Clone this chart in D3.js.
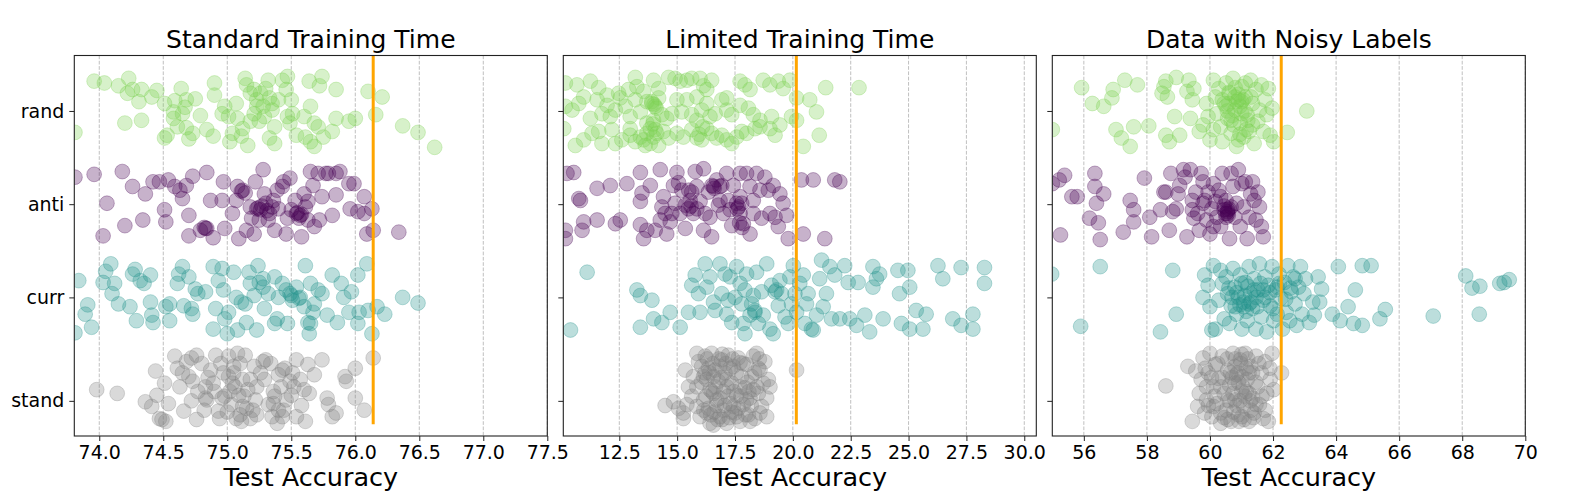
<!DOCTYPE html>
<html>
<head>
<meta charset="utf-8">
<script src="https://cdn.jsdelivr.net/npm/d3@7"></script>
<style>
  body { margin: 0; background: #fff; }
  svg text { font-family: "DejaVu Sans", sans-serif; fill: #000; }
</style>
</head>
<body>
<svg id="chart" width="1584" height="504"></svg>
<script>

// ---------------- data ----------------
var panelTitles = ["Standard Training Time", "Limited Training Time", "Data with Noisy Labels"];
var categories = ["rand", "anti", "curr", "stand"];
var catPos = [0, 1, 2, 3.11];               // where each category tick sits on the y axis
var catColors = ["#7ad151", "#440154", "#21918c", "#808080"];

var xDomains = [[73.805, 77.5], [10.08, 30.52], [55.0, 70.0]];
var xTicks = [
    [74.0, 74.5, 75.0, 75.5, 76.0, 76.5, 77.0, 77.5],
    [12.5, 15.0, 17.5, 20.0, 22.5, 25.0, 27.5, 30.0],
    [56, 58, 60, 62, 64, 66, 68, 70]
];
var tickFormats = [".1f", ".1f", "d"];
var refLines = [76.14, 20.15, 62.26];       // orange reference accuracy
var refSpan = [-0.6, 3.36];

// each point: [test accuracy, vertical jitter around the category]
var std_rand = [[73.96,-0.32],[74.04,-0.30],[74.15,-0.27],[74.23,-0.35],[74.22,-0.19],[74.26,-0.23],[74.33,-0.23],[74.31,-0.10],[74.41,-0.15],[74.45,-0.22],[74.51,-0.08],[74.59,-0.11],[74.64,-0.24],[74.68,-0.12],[74.75,-0.13],[74.58,0.01],[74.58,0.08],[74.65,0.03],[74.67,-0.04],[74.79,0.05],[74.61,0.17],[74.68,0.18],[74.73,0.24],[74.53,0.26],[74.51,0.29],[74.70,0.30],[74.20,0.13],[74.33,0.10],[73.81,0.23],[74.90,-0.30],[74.90,-0.17],[74.89,0.27],[74.98,-0.05],[75.01,0.06],[75.02,0.33],[75.07,-0.08],[75.08,0.08],[75.12,0.19],[75.14,-0.35],[75.16,0.37],[75.18,-0.19],[75.21,-0.23],[75.23,-0.12],[75.26,-0.19],[75.30,-0.24],[75.32,-0.33],[75.33,-0.14],[75.35,-0.01],[75.29,0.06],[75.25,0.11],[75.21,0.03],[75.18,0.11],[75.37,0.17],[75.40,-0.12],[75.43,-0.33],[75.46,-0.23],[75.47,-0.37],[75.50,-0.12],[75.51,0.03],[75.49,0.13],[75.54,0.26],[75.60,0.06],[75.61,0.28],[75.64,-0.32],[75.65,-0.05],[75.68,0.13],[75.72,-0.27],[75.74,-0.37],[75.75,0.28],[75.68,0.38],[75.82,0.22],[75.85,-0.23],[75.85,0.08],[75.95,0.11],[76.00,0.08],[76.10,-0.21],[76.16,0.04],[76.21,-0.15],[76.37,0.16],[76.49,0.23],[76.62,0.39],[75.11,0.27],[75.15,-0.28],[75.23,-0.05],[75.33,0.29],[75.37,0.35],[75.65,0.33],[75.71,0.17],[75.04,0.24],[74.96,0.03],[74.84,0.20],[75.35,-0.08],[75.28,-0.05],[75.47,0.06]];
var std_anti = [[73.81,-0.29],[73.96,-0.32],[74.06,-0.01],[74.03,0.34],[74.18,-0.35],[74.20,0.23],[74.26,-0.19],[74.34,0.17],[74.36,-0.11],[74.42,-0.24],[74.47,-0.24],[74.51,0.06],[74.52,0.19],[74.54,-0.26],[74.59,-0.19],[74.63,-0.15],[74.65,-0.06],[74.68,-0.20],[74.70,0.34],[74.70,0.12],[74.73,-0.30],[74.84,-0.34],[74.79,0.28],[74.83,0.26],[74.87,-0.04],[74.89,0.36],[74.97,-0.24],[74.98,0.26],[75.04,0.10],[75.07,-0.04],[75.08,-0.19],[75.09,0.37],[75.11,-0.14],[75.12,-0.15],[75.15,0.28],[75.18,0.03],[75.19,0.15],[75.21,0.32],[75.22,-0.24],[75.23,0.05],[75.26,0.06],[75.28,-0.37],[75.29,-0.11],[75.30,-0.01],[75.32,0.17],[75.33,0.10],[75.35,0.03],[75.37,0.28],[75.39,-0.15],[75.40,0.05],[75.43,-0.19],[75.44,-0.24],[75.46,0.32],[75.47,0.15],[75.49,-0.28],[75.50,0.06],[75.53,-0.04],[75.54,0.10],[75.57,0.12],[75.58,0.35],[75.60,-0.11],[75.61,0.03],[75.63,0.17],[75.65,-0.35],[75.67,-0.20],[75.68,0.24],[75.71,-0.33],[75.72,0.17],[75.74,-0.08],[75.77,-0.33],[75.79,-0.33],[75.82,0.12],[75.85,-0.33],[75.85,-0.10],[75.88,-0.35],[75.95,-0.22],[75.96,0.05],[75.99,-0.22],[76.02,0.08],[76.07,-0.08],[76.07,0.10],[76.09,0.32],[76.13,0.05],[76.14,0.28],[76.34,0.30],[75.25,0.17],[75.36,-0.04],[75.56,0.15],[75.63,-0.03],[74.96,-0.04],[74.84,0.26],[75.24,0.04],[75.27,0.02],[75.31,0.07],[75.55,0.09],[75.58,0.11],[75.14,-0.12],[74.82,0.25]];
var std_curr = [[73.81,0.38],[73.84,-0.18],[73.89,0.18],[73.91,0.08],[73.94,0.32],[74.03,-0.16],[74.05,-0.28],[74.09,-0.36],[74.10,-0.04],[74.12,-0.15],[74.15,0.07],[74.24,0.10],[74.26,-0.25],[74.28,-0.30],[74.29,0.25],[74.32,-0.18],[74.35,-0.15],[74.40,-0.24],[74.40,0.05],[74.41,0.19],[74.42,0.27],[74.52,0.10],[74.55,0.07],[74.55,0.25],[74.61,-0.15],[74.62,-0.25],[74.65,-0.33],[74.66,0.09],[74.70,-0.22],[74.72,0.12],[74.73,0.18],[74.75,-0.09],[74.77,-0.04],[74.83,-0.06],[74.89,-0.33],[74.89,0.34],[74.91,0.12],[74.93,-0.18],[74.96,-0.31],[74.97,-0.08],[74.98,0.23],[75.00,0.39],[75.01,0.16],[75.05,-0.27],[75.07,0.00],[75.08,0.35],[75.11,0.05],[75.14,0.07],[75.15,0.27],[75.17,-0.27],[75.18,-0.15],[75.21,-0.02],[75.23,0.35],[75.24,-0.34],[75.25,-0.16],[75.28,-0.20],[75.29,0.12],[75.32,-0.04],[75.37,0.28],[75.37,-0.22],[75.39,0.23],[75.40,0.00],[75.43,-0.15],[75.46,-0.08],[75.47,0.28],[75.50,-0.02],[75.51,0.03],[75.54,-0.11],[75.57,0.00],[75.60,0.10],[75.61,-0.34],[75.63,0.27],[75.64,0.39],[75.65,-0.15],[75.67,0.16],[75.68,0.07],[75.71,-0.08],[75.74,-0.04],[75.78,0.19],[75.82,-0.24],[75.86,0.27],[75.89,-0.15],[75.91,0.00],[75.95,0.16],[75.97,-0.06],[76.02,-0.24],[76.02,0.28],[76.03,0.16],[76.09,-0.36],[76.10,0.14],[76.13,0.39],[76.17,0.10],[76.23,0.18],[76.37,0.00],[76.49,0.06],[75.49,-0.04],[75.56,0.01],[75.65,0.28],[75.28,-0.11]];
var std_stand = [[73.98,-0.12],[74.14,-0.08],[74.36,0.01],[74.41,0.06],[74.44,-0.32],[74.45,-0.06],[74.47,0.19],[74.49,0.20],[74.51,-0.19],[74.52,0.22],[74.54,0.03],[74.59,-0.48],[74.61,-0.35],[74.63,-0.15],[74.66,0.11],[74.68,-0.42],[74.70,-0.26],[74.72,-0.46],[74.73,-0.21],[74.76,-0.49],[74.76,0.20],[74.77,-0.10],[74.82,0.10],[74.83,-0.03],[74.84,-0.01],[74.87,-0.33],[74.89,-0.19],[74.91,-0.49],[74.93,0.11],[74.94,0.19],[74.97,-0.30],[74.98,-0.05],[75.01,-0.48],[75.03,0.04],[75.04,-0.19],[75.05,-0.37],[75.07,0.19],[75.08,-0.51],[75.09,-0.06],[75.11,0.22],[75.12,-0.23],[75.14,-0.49],[75.15,0.08],[75.16,-0.12],[75.18,0.19],[75.21,-0.37],[75.22,-0.01],[75.23,0.15],[75.28,-0.42],[75.29,-0.23],[75.30,-0.44],[75.32,0.04],[75.35,0.17],[75.36,-0.10],[75.37,-0.05],[75.39,0.24],[75.40,-0.28],[75.43,-0.33],[75.43,0.17],[75.44,0.10],[75.46,-0.01],[75.49,-0.21],[75.50,-0.06],[75.51,-0.30],[75.54,-0.44],[75.54,0.17],[75.57,-0.23],[75.60,-0.12],[75.61,0.22],[75.63,-0.39],[75.64,-0.08],[75.68,-0.28],[75.74,-0.44],[75.78,-0.03],[75.79,0.04],[75.82,0.17],[75.85,0.13],[75.92,-0.26],[75.93,-0.21],[76.00,-0.35],[76.00,-0.03],[76.07,0.10],[76.14,-0.46],[74.90,-0.10],[75.01,-0.26],[75.18,-0.23],[74.83,-0.15],[75.36,0.03],[75.23,-0.15],[75.12,0.06],[74.96,-0.03],[75.05,-0.30],[75.10,-0.40],[75.02,-0.10],[75.42,-0.15],[74.80,-0.40],[74.65,-0.30],[74.85,-0.25],[74.95,-0.40],[75.06,-0.15],[75.13,-0.05],[75.20,0.10],[75.26,-0.30],[75.34,-0.40],[75.45,-0.35],[75.52,-0.15],[75.58,0.05],[74.72,0.00],[75.00,0.12],[75.40,0.10],[75.10,0.15]];

var lim_rand = [[10.17,-0.30],[10.67,-0.28],[11.25,-0.32],[11.61,-0.25],[11.97,-0.17],[12.47,-0.19],[12.90,-0.23],[13.19,-0.36],[13.26,-0.26],[13.55,-0.21],[13.98,-0.33],[14.20,-0.24],[14.63,-0.36],[14.91,-0.35],[15.13,-0.32],[15.42,-0.33],[15.63,-0.35],[15.99,-0.35],[16.14,-0.27],[16.28,-0.23],[16.49,-0.33],[17.14,-0.14],[17.72,-0.32],[17.93,-0.28],[18.15,-0.23],[18.72,-0.33],[19.01,-0.28],[19.37,-0.32],[19.58,-0.24],[19.87,-0.33],[20.16,-0.14],[20.73,-0.12],[21.42,-0.25],[22.86,-0.25],[10.17,-0.05],[10.46,-0.01],[10.75,-0.08],[10.96,-0.15],[11.25,0.08],[11.54,-0.12],[11.75,0.03],[11.97,-0.06],[12.11,0.06],[12.33,-0.01],[12.54,-0.14],[12.76,-0.05],[12.97,0.06],[13.19,-0.12],[13.41,0.01],[13.69,-0.10],[13.91,-0.08],[14.05,-0.05],[14.20,-0.14],[14.34,0.04],[14.55,0.08],[14.77,0.03],[14.99,-0.12],[15.20,0.01],[15.42,-0.12],[15.63,0.04],[15.85,-0.15],[16.06,-0.01],[16.28,-0.08],[16.42,0.06],[16.64,0.03],[16.93,-0.12],[17.14,-0.01],[17.36,0.04],[17.72,-0.06],[18.08,-0.03],[18.29,0.04],[18.58,0.10],[19.08,0.06],[19.94,0.06],[20.16,0.10],[21.02,0.01],[13.69,0.13],[13.98,0.10],[15.85,0.10],[10.10,0.19],[10.60,0.37],[10.96,0.31],[11.32,0.24],[11.61,0.22],[11.75,0.35],[12.18,0.20],[12.33,0.35],[12.61,0.31],[12.97,0.26],[13.19,0.33],[13.41,0.28],[13.62,0.37],[13.84,0.19],[13.98,0.28],[14.20,0.37],[14.41,0.22],[14.63,0.29],[14.99,0.24],[15.27,0.28],[15.63,0.20],[15.85,0.29],[16.06,0.31],[16.28,0.19],[16.49,0.24],[16.71,0.29],[16.93,0.26],[17.14,0.31],[17.36,0.35],[17.57,0.28],[17.79,0.22],[18.00,0.24],[18.36,0.19],[18.58,0.17],[19.01,0.19],[19.23,0.26],[20.45,0.38],[21.14,0.26],[19.44,0.15],[12.97,0.19],[13.69,0.24],[14.12,0.24],[13.55,0.31],[13.84,0.35],[13.90,-0.10],[14.00,-0.07],[13.95,0.14],[14.05,0.20],[16.10,0.17],[15.95,0.25],[14.10,-0.03]];
var lim_anti = [[10.24,-0.33],[10.53,-0.34],[10.17,0.28],[10.17,0.37],[10.75,-0.06],[10.82,-0.04],[10.89,0.28],[10.96,0.19],[11.54,-0.17],[11.54,0.17],[12.11,-0.20],[12.33,0.21],[12.54,0.17],[12.83,-0.22],[13.41,-0.34],[13.41,-0.03],[13.48,-0.12],[13.41,0.22],[13.55,0.37],[13.69,0.28],[13.84,-0.20],[14.05,0.28],[14.27,-0.37],[14.34,0.03],[14.41,-0.08],[14.48,0.10],[14.55,0.32],[14.70,0.19],[14.84,-0.20],[14.91,-0.01],[14.99,-0.34],[15.06,-0.23],[15.13,0.10],[15.20,-0.15],[15.35,0.26],[15.49,0.05],[15.56,-0.04],[15.63,-0.13],[15.70,0.10],[15.78,-0.35],[15.85,-0.19],[15.99,-0.03],[16.14,-0.38],[16.14,0.28],[16.21,0.10],[16.35,-0.13],[16.42,0.14],[16.49,0.35],[16.57,-0.19],[16.71,-0.26],[16.78,0.01],[16.85,-0.19],[16.93,-0.20],[17.00,0.10],[17.14,-0.33],[17.21,-0.04],[17.29,0.06],[17.36,0.23],[17.43,-0.20],[17.57,-0.01],[17.72,-0.33],[17.72,0.10],[17.79,-0.01],[17.86,0.21],[18.00,-0.33],[18.15,-0.19],[18.15,0.32],[18.29,-0.04],[18.29,0.10],[18.43,-0.33],[18.58,-0.15],[18.65,0.15],[18.79,-0.29],[18.94,-0.15],[19.01,0.10],[19.15,-0.20],[19.23,0.14],[19.37,0.24],[19.44,-0.11],[19.58,-0.01],[19.73,0.12],[19.80,0.37],[20.37,-0.26],[20.45,0.32],[20.88,-0.26],[21.38,0.37],[21.81,-0.26],[22.03,-0.24],[17.65,0.03],[17.72,-0.08],[15.85,0.05],[16.85,-0.04],[14.77,0.10],[14.27,0.17],[15.35,0.01],[16.50,-0.20],[16.60,-0.17],[17.70,0.20],[17.80,0.25],[17.60,0.05],[15.60,0.02],[15.50,-0.15]];
var lim_curr = [[10.39,0.35],[11.11,-0.27],[13.26,-0.08],[13.41,-0.02],[13.41,0.32],[13.91,0.03],[13.98,0.23],[14.34,0.27],[14.70,0.16],[15.13,0.32],[15.49,0.16],[15.63,-0.13],[15.78,-0.24],[15.92,-0.04],[15.99,0.16],[16.21,-0.36],[16.28,-0.11],[16.42,-0.22],[16.57,0.05],[16.64,0.14],[16.85,-0.36],[16.93,-0.04],[17.07,-0.25],[17.14,0.18],[17.21,0.03],[17.29,-0.22],[17.36,0.27],[17.50,0.00],[17.57,-0.33],[17.72,-0.15],[17.79,0.07],[17.86,0.28],[17.93,0.39],[18.00,-0.25],[18.15,0.19],[18.29,-0.02],[18.36,0.14],[18.43,-0.27],[18.51,0.28],[18.65,-0.06],[18.72,0.19],[18.87,-0.36],[19.01,0.34],[19.08,-0.13],[19.15,0.39],[19.23,-0.06],[19.37,0.09],[19.44,-0.18],[19.51,-0.04],[19.66,0.21],[19.80,0.28],[19.87,-0.22],[19.94,0.07],[20.02,-0.34],[20.09,-0.04],[20.16,0.16],[20.30,-0.15],[20.45,-0.24],[20.52,0.28],[20.59,0.07],[20.66,-0.04],[20.80,0.34],[20.88,0.35],[21.02,0.19],[21.16,-0.20],[21.24,-0.40],[21.31,0.10],[21.45,-0.04],[21.60,-0.33],[21.67,0.23],[21.81,-0.24],[22.03,0.23],[22.24,-0.34],[22.39,-0.16],[22.46,0.23],[22.75,0.30],[22.82,-0.16],[23.11,0.19],[23.32,0.37],[23.46,-0.33],[23.46,-0.11],[23.61,-0.20],[23.75,-0.25],[23.90,0.23],[24.54,-0.29],[24.61,-0.04],[24.69,0.28],[24.97,-0.29],[25.05,-0.11],[25.05,0.34],[25.33,0.14],[25.62,0.34],[25.76,0.18],[26.27,-0.34],[26.48,-0.20],[26.91,0.23],[27.27,-0.32],[27.27,0.30],[27.78,0.18],[27.78,0.34],[28.28,-0.32],[28.28,-0.15],[18.22,0.07],[19.30,-0.08],[18.36,0.16],[17.93,-0.08]];
var lim_stand = [[14.48,0.05],[14.84,0.01],[15.27,0.19],[15.35,-0.33],[15.42,0.04],[15.49,-0.15],[15.63,-0.05],[15.70,-0.26],[15.85,-0.51],[15.92,-0.42],[15.99,0.17],[16.06,-0.37],[16.14,-0.01],[16.21,-0.48],[16.28,-0.23],[16.35,0.08],[16.42,-0.12],[16.49,-0.51],[16.57,0.26],[16.64,-0.33],[16.71,-0.01],[16.78,-0.21],[16.85,0.17],[16.93,-0.44],[17.00,-0.10],[17.07,-0.30],[17.14,0.24],[17.21,-0.49],[17.29,0.03],[17.36,-0.19],[17.43,-0.37],[17.50,0.13],[17.57,-0.06],[17.64,-0.46],[17.72,0.22],[17.79,-0.26],[17.86,0.04],[17.93,-0.14],[18.00,-0.39],[18.08,0.15],[18.15,-0.03],[18.22,-0.26],[18.29,-0.48],[18.36,0.19],[18.43,-0.51],[18.51,-0.08],[18.58,-0.33],[18.65,0.06],[18.72,-0.19],[18.79,-0.42],[18.87,-0.03],[18.94,-0.23],[19.01,-0.15],[18.87,0.17],[20.16,-0.33],[15.06,0.08],[15.27,0.13],[15.85,-0.15],[16.28,0.13],[16.57,-0.08],[16.85,-0.37],[17.14,-0.23],[17.43,0.06],[17.72,-0.41],[18.00,-0.01],[18.29,-0.12],[18.58,0.13],[16.14,-0.26],[16.42,0.24],[17.00,0.10],[17.57,0.17],[18.15,0.22],[15.85,0.06],[17.72,-0.15],[16.85,-0.03],[16.57,-0.26],[18.51,-0.35],[16.40,-0.30],[16.70,0.05],[16.95,0.20],[17.20,-0.05],[17.35,0.12],[16.50,-0.10],[17.10,-0.40],[16.30,-0.45],[16.05,-0.20],[16.15,0.10],[16.25,-0.05],[16.35,-0.35],[16.45,0.15],[16.55,-0.40],[16.65,-0.15],[16.75,0.20],[16.80,-0.45],[16.90,-0.25],[17.05,0.05],[17.15,-0.15],[17.25,0.18],[17.30,-0.35],[17.45,-0.10],[17.55,-0.30],[17.65,0.08],[17.75,-0.05],[17.85,-0.40],[17.95,0.15],[18.05,-0.20],[18.20,0.05],[18.35,-0.30],[18.45,-0.15],[18.55,-0.45],[16.20,-0.30],[16.60,0.12],[17.40,-0.45],[18.10,-0.10],[16.95,-0.50]];

var noisy_rand = [[55.00,0.20],[55.93,-0.25],[56.27,-0.08],[56.63,-0.05],[56.89,-0.14],[56.93,-0.23],[57.02,0.20],[57.19,0.29],[57.30,-0.33],[57.47,0.38],[57.58,0.17],[57.70,-0.28],[58.06,0.16],[58.48,-0.19],[58.54,-0.26],[58.60,0.26],[58.65,-0.15],[58.71,0.33],[58.60,-0.32],[58.88,0.06],[58.93,-0.36],[59.04,0.26],[59.27,-0.21],[59.33,-0.33],[59.38,0.08],[59.44,-0.12],[59.49,-0.24],[59.66,0.22],[59.78,0.15],[59.89,-0.08],[60.00,0.31],[60.11,-0.33],[60.17,-0.15],[60.22,0.03],[60.28,-0.24],[60.34,0.17],[60.39,0.33],[60.45,-0.08],[60.51,-0.30],[60.56,0.08],[60.62,-0.19],[60.67,0.24],[60.73,-0.35],[60.79,-0.01],[60.84,0.38],[60.90,-0.12],[60.96,0.13],[61.01,-0.26],[61.07,0.28],[61.12,-0.15],[61.18,0.04],[61.24,0.22],[61.29,-0.33],[61.35,-0.08],[61.40,0.35],[61.46,-0.23],[61.52,0.11],[61.57,-0.01],[61.63,-0.28],[61.69,0.22],[61.74,-0.12],[61.80,0.04],[61.85,-0.24],[61.91,0.26],[61.97,-0.03],[62.02,0.33],[62.45,0.23],[63.07,0.00],[60.51,-0.05],[60.79,-0.15],[61.01,0.03],[60.67,0.10],[60.11,0.20],[60.90,0.31],[61.12,-0.30],[61.35,0.15],[60.39,-0.12],[59.94,0.06],[60.85,-0.10],[60.95,-0.05],[61.05,-0.12],[60.70,0.05],[60.60,-0.08],[61.20,0.10],[60.60,-0.20],[60.80,-0.25],[60.90,-0.18],[61.00,-0.10],[61.10,0.00],[60.75,0.15],[61.30,-0.15],[60.55,0.00],[61.15,0.20],[60.95,0.25]];
var noisy_anti = [[55.00,-0.22],[55.22,-0.26],[55.39,-0.31],[55.26,0.33],[55.62,-0.08],[55.79,-0.08],[56.18,0.15],[56.35,-0.33],[56.35,-0.19],[56.40,-0.01],[56.46,0.20],[56.52,0.38],[56.63,-0.11],[57.25,0.30],[57.47,-0.04],[57.58,0.06],[57.58,0.19],[57.92,-0.28],[58.09,0.14],[58.15,0.35],[58.43,0.06],[58.54,-0.13],[58.60,-0.13],[58.71,0.28],[58.76,-0.33],[58.82,0.08],[58.93,0.05],[58.99,-0.11],[59.04,-0.20],[59.16,-0.37],[59.21,-0.29],[59.27,0.35],[59.38,-0.37],[59.44,-0.04],[59.49,0.15],[59.55,-0.13],[59.61,0.10],[59.66,0.28],[59.72,-0.33],[59.78,-0.24],[59.83,-0.04],[59.89,0.17],[59.94,-0.13],[60.00,0.32],[60.06,0.05],[60.11,-0.22],[60.17,-0.03],[60.22,0.14],[60.28,-0.15],[60.34,0.24],[60.39,-0.33],[60.45,0.06],[60.51,-0.04],[60.56,0.10],[60.62,0.37],[60.67,-0.33],[60.73,-0.19],[60.79,0.14],[60.84,-0.01],[60.90,-0.37],[60.96,0.24],[61.01,-0.22],[61.07,0.03],[61.12,-0.24],[61.18,0.37],[61.24,0.14],[61.29,-0.11],[61.35,-0.24],[61.40,-0.04],[61.46,0.17],[61.52,-0.13],[61.57,0.03],[61.63,0.24],[61.69,0.35],[60.56,0.06],[60.51,0.14],[60.67,0.03],[59.78,-0.01],[60.11,0.24],[59.44,0.06],[60.34,-0.08],[60.55,0.08],[60.60,0.05],[60.50,0.10],[60.58,0.12],[60.45,0.02]];
var noisy_curr = [[54.98,-0.25],[55.90,0.31],[56.52,-0.33],[58.43,0.37],[58.82,-0.29],[58.93,0.18],[59.78,0.00],[59.83,-0.24],[59.94,-0.13],[60.00,0.10],[60.06,0.35],[60.11,-0.34],[60.17,0.34],[60.28,0.03],[60.34,-0.29],[60.39,-0.15],[60.45,0.23],[60.51,-0.22],[60.56,-0.04],[60.62,0.28],[60.67,0.09],[60.73,-0.31],[60.79,-0.11],[60.84,0.18],[60.90,0.00],[60.96,-0.24],[61.01,0.34],[61.07,0.05],[61.12,-0.16],[61.18,0.25],[61.24,-0.33],[61.29,-0.04],[61.35,0.12],[61.40,-0.20],[61.46,0.34],[61.52,-0.08],[61.57,-0.36],[61.63,0.21],[61.69,0.03],[61.74,-0.22],[61.80,0.37],[61.85,-0.13],[61.91,0.09],[61.97,-0.33],[62.02,0.25],[62.08,-0.08],[62.13,0.18],[62.19,-0.25],[62.25,0.01],[62.30,0.34],[62.36,-0.16],[62.42,0.16],[62.47,-0.34],[62.53,0.25],[62.58,-0.06],[62.64,-0.22],[62.70,0.07],[62.75,0.30],[62.81,-0.11],[62.87,-0.33],[62.92,0.18],[62.98,-0.04],[63.03,-0.20],[63.15,0.27],[63.26,0.05],[63.31,0.19],[63.43,-0.22],[63.48,0.05],[63.54,-0.09],[63.88,0.18],[64.07,-0.33],[64.13,0.25],[64.38,0.10],[64.55,0.28],[64.61,-0.08],[64.83,-0.34],[64.83,0.30],[65.11,-0.34],[65.39,0.23],[65.56,0.13],[67.08,0.20],[68.11,-0.23],[68.31,-0.10],[68.54,0.18],[68.56,-0.12],[69.19,-0.15],[69.33,-0.16],[69.49,-0.19],[61.24,0.07],[61.46,0.00],[61.07,0.10],[61.69,-0.08],[62.13,-0.11],[60.60,-0.10],[60.70,0.00],[60.85,-0.05],[60.95,0.08],[61.00,-0.15],[61.10,-0.02],[61.20,-0.12],[61.30,0.05],[61.40,-0.08],[61.50,0.10],[61.60,-0.15],[61.75,0.00],[61.90,-0.05],[62.00,0.12],[62.20,-0.15],[62.40,0.02],[62.55,-0.10],[62.70,-0.20],[61.15,0.15],[60.80,0.10]];
var noisy_stand = [[58.60,-0.16],[59.30,-0.37],[59.44,0.22],[59.55,-0.32],[59.61,0.06],[59.66,-0.08],[59.72,-0.23],[59.78,-0.46],[59.83,0.13],[59.89,-0.01],[59.94,-0.30],[60.00,-0.51],[60.06,0.17],[60.11,-0.15],[60.17,-0.39],[60.22,0.03],[60.28,-0.24],[60.34,0.24],[60.39,-0.48],[60.45,-0.08],[60.51,0.10],[60.56,-0.33],[60.62,-0.17],[60.67,0.22],[60.73,-0.51],[60.79,-0.01],[60.84,-0.28],[60.90,0.15],[60.96,-0.44],[61.01,-0.10],[61.07,0.06],[61.12,-0.51],[61.18,-0.23],[61.24,0.22],[61.29,-0.37],[61.35,-0.03],[61.40,0.13],[61.46,-0.48],[61.52,-0.15],[61.57,0.04],[61.63,-0.30],[61.69,0.19],[61.74,-0.42],[61.80,-0.08],[61.85,0.22],[61.91,-0.23],[61.97,-0.51],[62.02,-0.12],[62.27,-0.30],[61.01,-0.26],[60.56,-0.01],[60.79,-0.19],[61.24,-0.08],[60.34,0.13],[60.11,0.06],[61.01,0.17],[60.79,-0.37],[61.46,0.04],[60.56,0.20],[59.89,-0.15],[61.24,-0.30],[60.73,-0.08],[60.90,-0.20],[60.95,0.00],[61.10,-0.05],[60.85,0.05],[61.15,-0.35],[60.70,-0.25],[60.98,-0.40],[61.30,0.10],[59.85,-0.35],[59.95,0.05],[60.05,-0.25],[60.15,-0.05],[60.25,-0.40],[60.35,-0.15],[60.45,0.18],[60.55,-0.45],[60.65,-0.30],[60.75,0.12],[60.80,-0.45],[60.88,-0.30],[60.92,0.22],[61.00,-0.50],[61.05,-0.15],[61.08,0.20],[61.15,-0.10],[61.20,-0.45],[61.28,0.00],[61.35,-0.30],[61.45,-0.20],[61.55,-0.40],[61.65,-0.05],[61.75,0.10],[61.90,-0.35],[60.40,-0.25],[60.62,0.00],[61.38,0.18]];

var panelPoints = [
    [std_rand, std_anti, std_curr, std_stand],
    [lim_rand, lim_anti, lim_curr, lim_stand],
    [noisy_rand, noisy_anti, noisy_curr, noisy_stand]
];

// ---------------- layout ----------------
var svg = d3.select("#chart");
var panelLeft = [74.3, 563.3, 1052.3];
var panelWidth = 473;
var plotTop = 55.5, plotBottom = 436;
var yDomain = [-0.595, 3.487];

var y = d3.scaleLinear().domain(yDomain).range([plotTop, plotBottom]);

panelTitles.forEach(function(title, i) {
    drawPanel(i);
});

function drawPanel(i) {
    var g = svg.append("g")
        .attr("transform", "translate(" + panelLeft[i] + ",0)");

    var x = d3.scaleLinear().domain(xDomains[i]).range([0, panelWidth]);

    g.append("clipPath")
        .attr("id", "clip" + i)
        .append("rect")
        .attr("x", 0)
        .attr("y", plotTop)
        .attr("width", panelWidth)
        .attr("height", plotBottom - plotTop);

    // dashed vertical grid
    g.selectAll("line.grid")
        .data(xTicks[i])
        .enter().append("line")
        .attr("class", "grid")
        .attr("x1", function(d) { return x(d); })
        .attr("x2", function(d) { return x(d); })
        .attr("y1", plotTop)
        .attr("y2", plotBottom)
        .style("stroke", "#b0b0b0")
        .style("stroke-width", 0.8)
        .style("stroke-dasharray", "3.7,1.6");

    var plot = g.append("g").attr("clip-path", "url(#clip" + i + ")");

    // points, one group per category
    categories.forEach(function(cat, c) {
        plot.append("g")
            .attr("class", "strip-" + cat)
            .selectAll("circle")
            .data(panelPoints[i][c])
            .enter().append("circle")
            .attr("cx", function(d) { return x(d[0]); })
            .attr("cy", function(d) { return y(catPos[c] + d[1]); })
            .attr("r", 7.4)
            .style("fill", catColors[c])
            .style("fill-opacity", 0.3)
            .style("stroke", catColors[c])
            .style("stroke-opacity", 0.3)
            .style("stroke-width", 1);
    });

    // orange reference line
    plot.append("line")
        .attr("x1", x(refLines[i]))
        .attr("x2", x(refLines[i]))
        .attr("y1", y(refSpan[0]))
        .attr("y2", y(refSpan[1]))
        .style("stroke", "#ffa500")
        .style("stroke-width", 3);

    // axes
    var xAxis = g.append("g")
        .attr("transform", "translate(0," + plotBottom + ")")
        .call(d3.axisBottom(x)
            .tickValues(xTicks[i])
            .tickFormat(d3.format(tickFormats[i]))
            .tickSize(5)
            .tickPadding(5));

    var yAxis = g.append("g")
        .call(d3.axisLeft(y)
            .tickValues(catPos)
            .tickFormat(function(d, k) { return i === 0 ? categories[k] : ""; })
            .tickSize(5)
            .tickPadding(5));

    [xAxis, yAxis].forEach(function(ax) {
        ax.select(".domain").remove();
        ax.selectAll(".tick line").style("stroke", "#222").style("stroke-width", 1);
        ax.selectAll(".tick text")
            .style("font-family", "DejaVu Sans, sans-serif")
            .style("font-size", "19px")
            .style("fill", "#000");
    });

    // frame
    g.append("rect")
        .attr("x", 0)
        .attr("y", plotTop)
        .attr("width", panelWidth)
        .attr("height", plotBottom - plotTop)
        .style("fill", "none")
        .style("stroke", "#222")
        .style("stroke-width", 1.1);

    // title and axis label
    g.append("text")
        .attr("x", panelWidth / 2)
        .attr("y", 48)
        .attr("text-anchor", "middle")
        .style("font-size", "25px")
        .text(panelTitles[i]);

    g.append("text")
        .attr("x", panelWidth / 2)
        .attr("y", 486)
        .attr("text-anchor", "middle")
        .style("font-size", "25.5px")
        .text("Test Accuracy");
}
</script>
</body>
</html>
